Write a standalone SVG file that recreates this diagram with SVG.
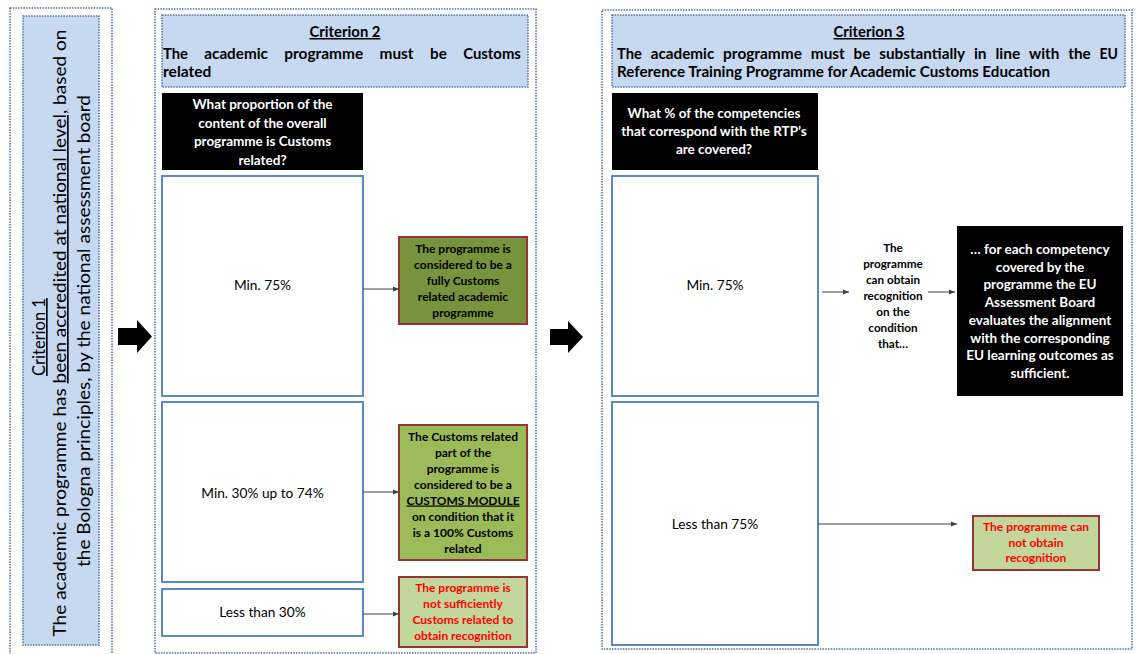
<svg xmlns="http://www.w3.org/2000/svg" width="1136" height="654" viewBox="0 0 1136 654">
<defs>
<style>
.frame{fill:#ffffff;stroke:#4f6fa8;stroke-width:1.5;stroke-dasharray:1.5 1.2}
.hdr{fill:#c6d9f1;stroke:#4f6fa8;stroke-width:1.5;stroke-dasharray:1.5 1.2}
.range{fill:#ffffff;stroke:#5b88c8;stroke-width:2}
.blk{fill:#000000}
.g1{fill:#77933c;stroke:#943634;stroke-width:2}
.g2{fill:#9bbb59;stroke:#943634;stroke-width:2}
.g3{fill:#c3d69b;stroke:#943634;stroke-width:2}
text{font-family:Lato,"Liberation Sans",sans-serif;fill:#000000}
.b{font-weight:bold}
.c{text-anchor:middle}
.w{fill:#ffffff}
.r{fill:#ff0000}
.u{text-decoration:underline}
.conn{stroke:#404040;stroke-width:1;fill:none}
.big{fill:#000000}
</style>
<marker id="ah" markerWidth="6" markerHeight="6" refX="6" refY="3" orient="auto" markerUnits="userSpaceOnUse">
<path d="M0,0.5 L6,3 L0,5.5 z" fill="#404040"/>
</marker>
</defs>
<rect width="1136" height="654" fill="#ffffff"/>

<g id="criterion1">
<rect class="frame" x="10" y="8" width="102" height="652"/>
<rect class="hdr" x="23" y="16" width="76" height="629"/>
<text class="u" font-size="16.5" text-anchor="middle" transform="translate(45,337) rotate(-90)">Criterion 1</text>
<text font-size="16.5" text-anchor="middle" textLength="607" lengthAdjust="spacingAndGlyphs" transform="translate(66,333) rotate(-90)">The academic programme has <tspan class="u">been accredited at national level,</tspan> based on</text>
<text font-size="16.5" text-anchor="middle" textLength="472" lengthAdjust="spacingAndGlyphs" transform="translate(90,331) rotate(-90)">the Bologna principles, by the national assessment board</text>
</g>

<g id="bigarrow1">
<polygon class="big" points="118,328 137,328 137,320 152,336.5 137,353 137,345 118,345"/>
</g>

<g id="criterion2">
<rect class="frame" x="155" y="9" width="381" height="644"/>
<rect class="hdr" x="162" y="15" width="366" height="72"/>
<text class="b c u" x="345" y="37" font-size="15" textLength="71" lengthAdjust="spacingAndGlyphs">Criterion 2</text>
<g class="b" font-size="15">
<text x="163" y="59" textLength="24.9" lengthAdjust="spacingAndGlyphs">The</text>
<text x="204.3" y="59" textLength="63.6" lengthAdjust="spacingAndGlyphs">academic</text>
<text x="284.3" y="59" textLength="78.9" lengthAdjust="spacingAndGlyphs">programme</text>
<text x="379.6" y="59" textLength="34" lengthAdjust="spacingAndGlyphs">must</text>
<text x="430" y="59" textLength="16.8" lengthAdjust="spacingAndGlyphs">be</text>
<text x="463.2" y="59" textLength="57.7" lengthAdjust="spacingAndGlyphs">Customs</text>
<text x="163" y="77" textLength="48.4" lengthAdjust="spacingAndGlyphs">related</text>
</g>
</g>

<g id="q2">
<rect class="blk" x="162" y="93" width="201" height="77"/>
<g class="b c w" font-size="13.5">
<text class="w" x="262.5" y="109">What proportion of the</text>
<text class="w" x="262.5" y="127.7">content of the overall</text>
<text class="w" x="262.5" y="146.3">programme is Customs</text>
<text class="w" x="262.5" y="165">related?</text>
</g>
</g>

<g id="c2-min75">
<rect class="range" x="162" y="176" width="201" height="220"/>
<text class="c" x="262.5" y="290" font-size="13.7">Min. 75%</text>
</g>
<g id="c2-min30">
<rect class="range" x="162" y="402" width="201" height="180"/>
<text class="c" x="262.5" y="498" font-size="13.7">Min. 30% up to 74%</text>
</g>
<g id="c2-less30">
<rect class="range" x="162" y="589" width="201" height="47"/>
<text class="c" x="262.5" y="617" font-size="13.7">Less than 30%</text>
</g>

<g id="res-full">
<rect class="g1" x="399" y="237" width="128" height="87"/>
<g class="b c" font-size="12">
<text x="463" y="252.5">The programme  is</text>
<text x="463" y="268.5">considered to be a</text>
<text x="463" y="284.5">fully  Customs</text>
<text x="463" y="300.5">related academic</text>
<text x="463" y="316.5">programme</text>
</g>
</g>

<g id="res-module">
<rect class="g2" x="399" y="425" width="128" height="135"/>
<g class="b c" font-size="12">
<text x="463" y="440.5">The Customs  related</text>
<text x="463" y="456.5">part of the</text>
<text x="463" y="472.5">programme is</text>
<text x="463" y="488.5">considered to be a</text>
<text class="u" x="463" y="504.5">CUSTOMS MODULE</text>
<text x="463" y="520.5">on condition  that it</text>
<text x="463" y="536.5">is a 100% Customs</text>
<text x="463" y="552.5">related</text>
</g>
</g>

<g id="res-notsuff">
<rect class="g3" x="399" y="577" width="128" height="70"/>
<g class="b c" font-size="12">
<text class="r" x="463" y="592">The programme  is</text>
<text class="r" x="463" y="608">not sufficiently</text>
<text class="r" x="463" y="624">Customs related to</text>
<text class="r" x="463" y="640">obtain recognition</text>
</g>
</g>

<g id="bigarrow2">
<polygon class="big" points="550,329 568,329 568,321 583,337 568,353 568,345 550,345"/>
</g>

<g id="criterion3">
<rect class="frame" x="602" y="10" width="530" height="639"/>
<rect class="hdr" x="612" y="15" width="513" height="72"/>
<text class="b c u" x="869" y="37" font-size="15" textLength="71" lengthAdjust="spacingAndGlyphs">Criterion 3</text>
<g class="b" font-size="15">
<text x="617" y="59" textLength="24.9" lengthAdjust="spacingAndGlyphs">The</text>
<text x="650.7" y="59" textLength="63.6" lengthAdjust="spacingAndGlyphs">academic</text>
<text x="723.1" y="59" textLength="78.9" lengthAdjust="spacingAndGlyphs">programme</text>
<text x="810.8" y="59" textLength="34" lengthAdjust="spacingAndGlyphs">must</text>
<text x="853.6" y="59" textLength="16.8" lengthAdjust="spacingAndGlyphs">be</text>
<text x="879.2" y="59" textLength="85.9" lengthAdjust="spacingAndGlyphs">substantially</text>
<text x="973.9" y="59" textLength="12.7" lengthAdjust="spacingAndGlyphs">in</text>
<text x="995.4" y="59" textLength="24.8" lengthAdjust="spacingAndGlyphs">line</text>
<text x="1029" y="59" textLength="30.4" lengthAdjust="spacingAndGlyphs">with</text>
<text x="1068.2" y="59" textLength="22.5" lengthAdjust="spacingAndGlyphs">the</text>
<text x="1099.5" y="59" textLength="18.5" lengthAdjust="spacingAndGlyphs">EU</text>
<text x="617" y="77" textLength="433" lengthAdjust="spacingAndGlyphs">Reference Training Programme for Academic Customs Education</text>
</g>
</g>

<g id="q3">
<rect class="blk" x="612" y="93" width="206" height="77"/>
<g class="b c" font-size="13.5">
<text class="w" x="714" y="118">What % of the competencies</text>
<text class="w" x="714" y="136">that correspond with the RTP’s</text>
<text class="w" x="714" y="154">are covered?</text>
</g>
</g>

<g id="c3-min75">
<rect class="range" x="612" y="176" width="206" height="220"/>
<text class="c" x="715" y="290" font-size="13.7">Min. 75%</text>
</g>
<g id="c3-less75">
<rect class="range" x="612" y="402" width="206" height="243"/>
<text class="c" x="715" y="529" font-size="13.7">Less than 75%</text>
</g>

<g id="condition">
<g class="b c" font-size="11.7">
<text x="893" y="252">The</text>
<text x="893" y="268">programme</text>
<text x="893" y="284">can obtain</text>
<text x="893" y="300">recognition</text>
<text x="893" y="316">on the</text>
<text x="893" y="332">condition</text>
<text x="893" y="348">that…</text>
</g>
</g>

<g id="eval">
<rect class="blk" x="957" y="226" width="166" height="170"/>
<g class="b c" font-size="13.5">
<text class="w" x="1040" y="254">… for each competency</text>
<text class="w" x="1040" y="271.7">covered by the</text>
<text class="w" x="1040" y="289.4">programme the EU</text>
<text class="w" x="1040" y="307.1">Assessment Board</text>
<text class="w" x="1040" y="324.8">evaluates the alignment</text>
<text class="w" x="1040" y="342.5">with the corresponding</text>
<text class="w" x="1040" y="360.2">EU learning outcomes as</text>
<text class="w" x="1040" y="377.9">sufficient.</text>
</g>
</g>

<g id="res-norec">
<rect class="g3" x="973" y="516" width="126" height="54"/>
<g class="b c" font-size="12">
<text class="r" x="1036" y="531">The programme  can</text>
<text class="r" x="1036" y="547">not obtain</text>
<text class="r" x="1036" y="562">recognition</text>
</g>
</g>

<g id="connectors">
<line class="conn" x1="363" y1="289" x2="399" y2="289" marker-end="url(#ah)"/>
<line class="conn" x1="363" y1="492" x2="399" y2="492" marker-end="url(#ah)"/>
<line class="conn" x1="363" y1="614" x2="399" y2="614" marker-end="url(#ah)"/>
<line class="conn" x1="822" y1="292" x2="849" y2="292" marker-end="url(#ah)"/>
<line class="conn" x1="928" y1="292" x2="955" y2="292" marker-end="url(#ah)"/>
<line class="conn" x1="818" y1="524" x2="957" y2="524" marker-end="url(#ah)"/>
</g>
</svg>
